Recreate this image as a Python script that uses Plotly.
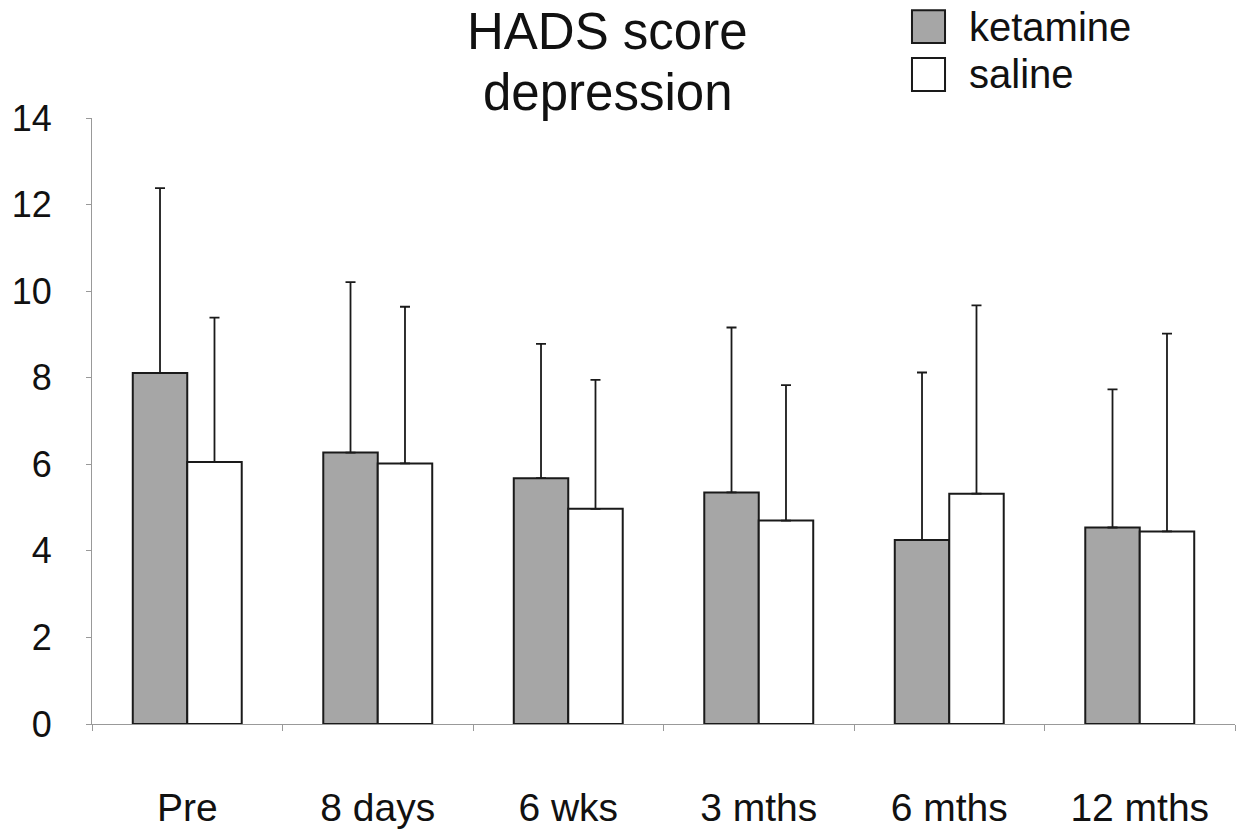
import plotly.graph_objects as go

categories = ["Pre", "8 days", "6 wks", "3 mths", "6 mths", "12 mths"]
ketamine_mean = [8.11, 6.27, 5.68, 5.35, 4.25, 4.54]
ketamine_top = [12.38, 10.21, 8.78, 9.16, 8.12, 7.73]
saline_mean = [6.05, 6.02, 4.97, 4.70, 5.32, 4.45]
saline_top = [9.39, 9.64, 7.95, 7.83, 9.67, 9.02]
y_ticks = [0, 2, 4, 6, 8, 10, 12, 14]
series_names = ["ketamine", "saline"]
title_lines = ["HADS score", "depression"]

ket_err = [t - m for t, m in zip(ketamine_top, ketamine_mean)]
sal_err = [t - m for t, m in zip(saline_top, saline_mean)]

FONT = "Liberation Sans, Arial, sans-serif"

fig = go.Figure()
fig.add_trace(go.Bar(
    x=categories, y=ketamine_mean, name=series_names[0],
    marker=dict(color="#a6a6a6", line=dict(color="#1a1a1a", width=2)),
    error_y=dict(type="data", array=ket_err, arrayminus=[0]*6, symmetric=False,
                 color="#1a1a1a", thickness=1.8, width=5),
    showlegend=False,
))
fig.add_trace(go.Bar(
    x=categories, y=saline_mean, name=series_names[1],
    marker=dict(color="#ffffff", line=dict(color="#1a1a1a", width=2)),
    error_y=dict(type="data", array=sal_err, arrayminus=[0]*6, symmetric=False,
                 color="#1a1a1a", thickness=1.8, width=5),
    showlegend=False,
))

# legend drawn as shapes + text
fills = ["#a6a6a6", "#ffffff"]
ys = [(1.178, 1.1238), (1.099, 1.0446)]
for i, name in enumerate(series_names):
    fig.add_shape(type="rect", xref="paper", yref="paper",
                  x0=0.7174, x1=0.7463, y0=ys[i][1], y1=ys[i][0],
                  fillcolor=fills[i], line=dict(color="#1a1a1a", width=2))
    fig.add_annotation(xref="paper", yref="paper", x=0.7655,
                       y=(ys[i][0] + ys[i][1]) / 2, text=name, showarrow=False,
                       xanchor="left", yanchor="middle",
                       font=dict(family=FONT, size=40, color="#111111"))

# two-line title as annotations
for txt, ty in zip(title_lines, [1.142, 1.0415]):
    fig.add_annotation(xref="paper", yref="paper", x=0.4514, y=ty, text=txt,
                       showarrow=False, xanchor="center", yanchor="middle",
                       font=dict(family=FONT, size=51, color="#111111"))

fig.update_layout(
    width=1246, height=829,
    margin=dict(l=92, r=11, t=118, b=105),
    paper_bgcolor="white", plot_bgcolor="white",
    barmode="group", bargap=0.428, bargroupgap=0,
    showlegend=False,
    font=dict(family=FONT, color="#111111"),
)
fig.update_xaxes(
    showline=True, linecolor="#999999", linewidth=1.2,
    ticks="outside", tickson="boundaries", ticklen=6, tickcolor="#999999",
    tickfont=dict(family=FONT, size=39, color="#111111"),
    ticklabelstandoff=49, showgrid=False, range=[-0.5, 5.5],
    automargin=False,
)
fig.update_yaxes(
    range=[0, 14], tickvals=y_ticks, showline=True, linecolor="#999999",
    linewidth=1.2, ticks="outside", ticklen=5, tickcolor="#999999",
    tickfont=dict(family=FONT, size=36, color="#111111"),
    ticklabelstandoff=27, showgrid=False, zeroline=False, automargin=False,
)

fig.write_html("out.html")
